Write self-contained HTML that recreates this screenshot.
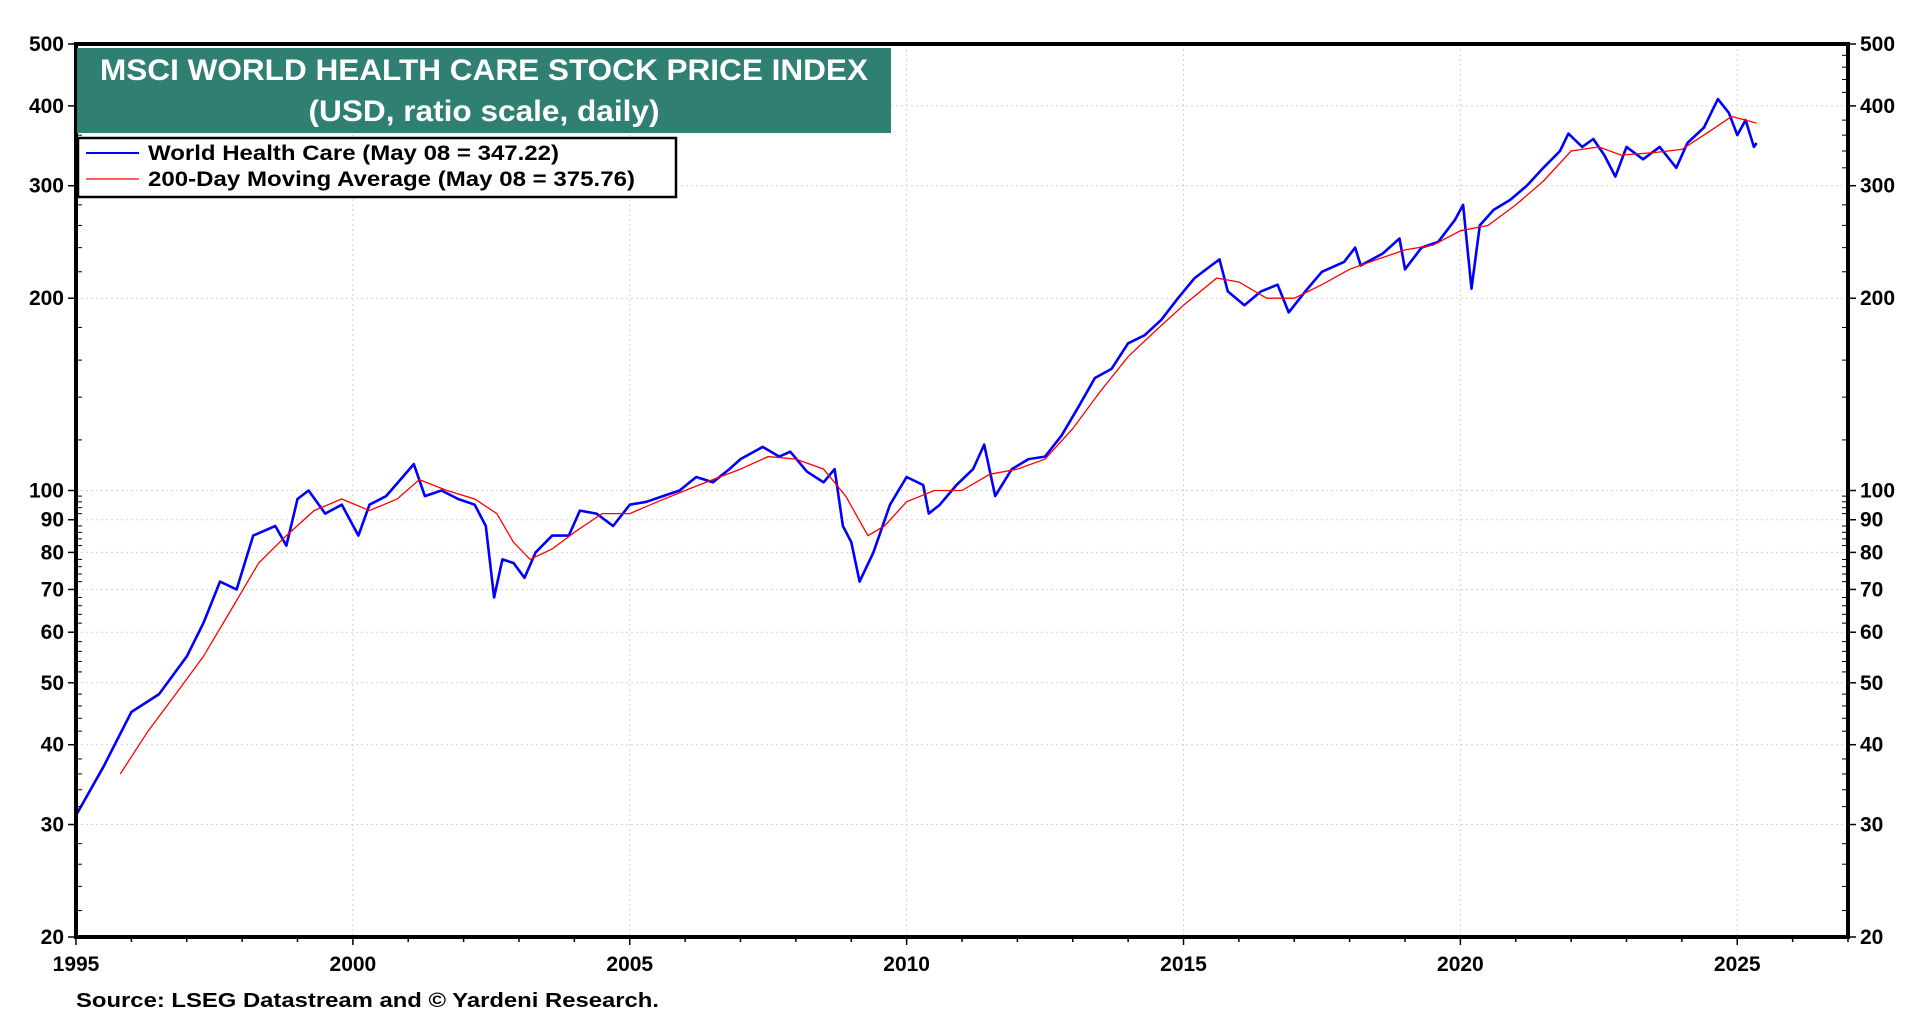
<!DOCTYPE html>
<html><head><meta charset="utf-8"><style>
html,body{margin:0;padding:0;background:#fff;}
svg text{font-family:"Liberation Sans",Arial,sans-serif;font-weight:bold;}
</style></head><body>
<svg id="chart" width="1920" height="1020" viewBox="0 0 1920 1020" xmlns="http://www.w3.org/2000/svg">
<g id="grid"></g>
<g id="series"></g>
<rect x="76" y="44" width="1772" height="893" fill="none" stroke="#000" stroke-width="4"/>
<g id="axes"></g>
<rect x="77" y="48" width="814" height="85" fill="#2f7f72"/>
<text x="484" y="80" fill="#fff" font-size="30" text-anchor="middle" textLength="768" lengthAdjust="spacingAndGlyphs">MSCI WORLD HEALTH CARE STOCK PRICE INDEX</text>
<text x="484" y="121" fill="#fff" font-size="30" text-anchor="middle" textLength="351" lengthAdjust="spacingAndGlyphs">(USD, ratio scale, daily)</text>
<g>
<rect x="78" y="138" width="598" height="59" fill="#fff" stroke="#000" stroke-width="2.5"/>
<line x1="86" y1="153" x2="139" y2="153" stroke="#0000ff" stroke-width="2"/>
<text x="148" y="160" font-size="21" textLength="411" lengthAdjust="spacingAndGlyphs">World Health Care (May 08 = 347.22)</text>
<line x1="86" y1="179" x2="139" y2="179" stroke="#ff0000" stroke-width="1.2"/>
<text x="148" y="186" font-size="21" textLength="487" lengthAdjust="spacingAndGlyphs">200-Day Moving Average (May 08 = 375.76)</text>
</g>
<text x="76" y="1007" font-size="20" textLength="583" lengthAdjust="spacingAndGlyphs">Source: LSEG Datastream and © Yardeni Research.</text>
</svg>
<script>
const priceDates=[1995.0,1995.5,1996.0,1996.5,1997.0,1997.3,1997.6,1997.9,1998.2,1998.6,1998.8,1999.0,1999.2,1999.5,1999.8,2000.1,2000.3,2000.6,2000.9,2001.1,2001.3,2001.6,2001.9,2002.2,2002.4,2002.55,2002.7,2002.9,2003.1,2003.3,2003.6,2003.9,2004.1,2004.4,2004.7,2005.0,2005.3,2005.6,2005.9,2006.2,2006.5,2006.8,2007.0,2007.4,2007.7,2007.9,2008.2,2008.5,2008.7,2008.85,2009.0,2009.15,2009.4,2009.7,2010.0,2010.3,2010.4,2010.6,2010.9,2011.2,2011.4,2011.6,2011.9,2012.2,2012.5,2012.8,2013.1,2013.4,2013.7,2014.0,2014.3,2014.6,2014.9,2015.2,2015.5,2015.65,2015.8,2016.1,2016.4,2016.7,2016.9,2017.2,2017.5,2017.9,2018.1,2018.2,2018.6,2018.9,2019.0,2019.3,2019.6,2019.9,2020.05,2020.2,2020.35,2020.6,2020.9,2021.2,2021.5,2021.8,2021.95,2022.2,2022.4,2022.6,2022.8,2023.0,2023.3,2023.6,2023.9,2024.1,2024.4,2024.65,2024.85,2025.0,2025.15,2025.3,2025.35];
const priceValues=[31,37,45,48,55,62,72,70,85,88,82,97,100,92,95,85,95,98,105,110,98,100,97,95,88,68,78,77,73,80,85,85,93,92,88,95,96,98,100,105,103,108,112,117,113,115,107,103,108,88,83,72,80,95,105,102,92,95,102,108,118,98,108,112,113,122,135,150,155,170,175,185,200,215,225,230,205,195,205,210,190,205,220,228,240,225,235,248,222,240,245,265,280,207,260,275,285,300,320,340,362,345,355,335,310,345,330,345,320,350,370,410,390,360,380,345,350];
const maDates=[1995.8,1996.3,1996.8,1997.3,1997.8,1998.3,1998.8,1999.3,1999.8,2000.3,2000.8,2001.2,2001.7,2002.2,2002.6,2002.9,2003.2,2003.6,2004.0,2004.5,2005.0,2005.5,2006.0,2006.5,2007.0,2007.5,2008.0,2008.5,2008.9,2009.3,2009.6,2010.0,2010.5,2011.0,2011.5,2012.0,2012.5,2013.0,2013.5,2014.0,2014.5,2015.0,2015.6,2016.0,2016.5,2017.0,2017.5,2018.0,2018.5,2019.0,2019.5,2020.0,2020.5,2021.0,2021.5,2022.0,2022.5,2022.9,2023.5,2024.0,2024.5,2024.9,2025.35];
const maValues=[36,42,48,55,65,77,85,93,97,93,97,104,100,97,92,83,78,81,86,92,92,96,100,104,108,113,112,108,98,85,88,96,100,100,106,108,112,125,143,162,178,195,215,212,200,200,210,222,230,238,242,255,260,280,305,340,345,335,338,342,365,385,376];
const yTicks=[20,30,40,50,60,70,80,90,100,200,300,400,500];
const xTicks=[1995,2000,2005,2010,2015,2020,2025];

const L=76,R=1848,T=44,B=937,X0=1995,X1=2027,YMIN=20,YMAX=500;
function xs(t){return L+(t-X0)/(X1-X0)*(R-L);}
function ys(v){return B-Math.log(v/YMIN)/Math.log(YMAX/YMIN)*(B-T);}
const NS='http://www.w3.org/2000/svg';
function mk(tag,attrs,parent){const e=document.createElementNS(NS,tag);for(const k in attrs)e.setAttribute(k,attrs[k]);parent.appendChild(e);return e;}
const grid=document.getElementById('grid'),axes=document.getElementById('axes'),series=document.getElementById('series');

yTicks.forEach(v=>{
  const y=ys(v);
  const g=mk('line',{x1:L,x2:R,y1:y,y2:y,stroke:'#d4d4d4','stroke-width':1,'stroke-dasharray':'2,3'},grid);
  
  
  [[L-8,L,'end',L-12],[R,R+8,'start',R+12]].forEach(a=>{
    const tk=mk('line',{x1:a[0],x2:a[1],y1:y,y2:y,stroke:'#000','stroke-width':1.5},axes);
    
    
    const tx=mk('text',{x:a[3],y:y+7,'font-size':21,'text-anchor':a[2]},axes);
    
    
    tx.textContent=v;
  });
});
const minors=[];
for(let v=22;v<100;v+=2)if(v%10)minors.push(v);
for(let v=120;v<500;v+=20)if(v%100)minors.push(v);
minors.forEach(v=>{const y=ys(v);
  [[L,L+6],[R-6,R]].forEach(a=>{const m=mk('line',{x1:a[0],x2:a[1],y1:y,y2:y,stroke:'#000','stroke-width':1},axes);
  
  });
});
for(let yr=1995;yr<=2027;yr++){
  const x=xs(yr);
  const m=mk('line',{x1:x,x2:x,y1:B,y2:B+(yr%5?5:8),stroke:'#000','stroke-width':1.5},axes);
  
  
}
xTicks.forEach(t=>{
  const x=xs(t);
  const g=mk('line',{x1:x,x2:x,y1:T,y2:B,stroke:'#d4d4d4','stroke-width':1,'stroke-dasharray':'2,3'},grid);
  
  
  const tx=mk('text',{x:x,y:B+34,'font-size':21,'text-anchor':'middle'},axes);
  
  
  tx.textContent=t;
});
function path(d,v){return d.map((t,i)=>(i?'L':'M')+xs(t).toFixed(1)+','+ys(v[i]).toFixed(1)).join('');}
const pl=mk('path',{d:path(priceDates,priceValues),fill:'none',stroke:'#0000ff','stroke-width':2.6,'stroke-linejoin':'round'},series);


const ma=mk('path',{d:path(maDates,maValues),fill:'none',stroke:'#ff0000','stroke-width':1.3},series);


</script>
</body></html>
